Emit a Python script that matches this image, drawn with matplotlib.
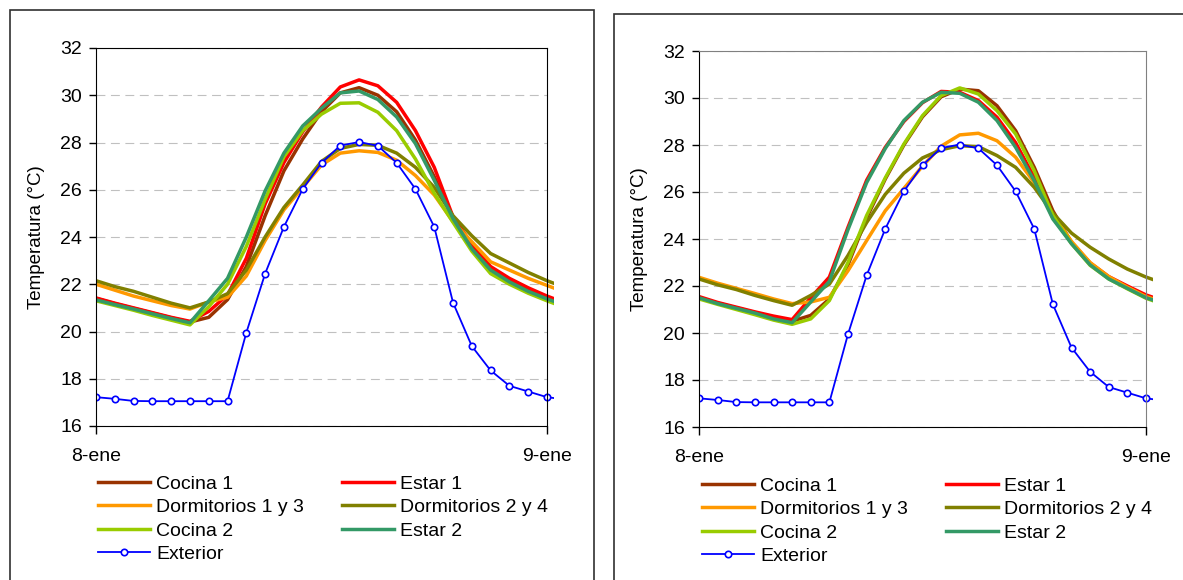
import matplotlib
matplotlib.use("Agg")
import matplotlib.pyplot as plt
from matplotlib.patches import Rectangle
from matplotlib.transforms import Bbox, TransformedBbox

plt.rcParams['font.family'] = ['Liberation Sans', 'DejaVu Sans']

# hourly readings, 8-ene 0:00 -> 9-ene 1:00
hours = list(range(26))
tick_pos = [0, 24]
tick_labels = ['8-ene', '9-ene']
y_ticks = [16, 18, 20, 22, 24, 26, 28, 30, 32]

names = ['Cocina 1', 'Estar 1', 'Dormitorios 1 y 3', 'Dormitorios 2 y 4',
         'Cocina 2', 'Estar 2']
colours = ['#993300', '#FF0000', '#FF9900', '#808000', '#99CC00', '#339966']

exterior = [17.22, 17.15, 17.06, 17.05, 17.05, 17.05, 17.05, 17.05, 19.95, 22.45,
            24.43, 26.03, 27.14, 27.87, 28.02, 27.86, 27.14, 26.03, 24.43, 21.22,
            19.38, 18.35, 17.7, 17.46, 17.22, 17.12]

# left chart
cocina1_a = [21.4, 21.18, 20.98, 20.78, 20.58, 20.4, 20.6, 21.35, 22.75, 24.9,
             26.8, 28.15, 29.3, 30.1, 30.32, 30.0, 29.3, 28.1, 26.55, 24.82,
             23.65, 22.7, 22.2, 21.8, 21.45, 21.15]
estar1_a = [21.42, 21.2, 21.0, 20.8, 20.6, 20.43, 20.85, 21.55, 23.1, 25.4,
            27.15, 28.45, 29.5, 30.35, 30.65, 30.4, 29.7, 28.5, 26.95, 24.85,
            23.7, 22.75, 22.25, 21.85, 21.5, 21.2]
dorm13_a = [22.0, 21.75, 21.5, 21.3, 21.1, 20.95, 21.25, 21.45, 22.35, 23.85,
            25.15, 26.1, 27.05, 27.55, 27.65, 27.58, 27.25, 26.6, 25.78, 24.65,
            23.8, 22.95, 22.6, 22.25, 21.95, 21.65]
dorm24_a = [22.15, 21.9, 21.7, 21.45, 21.2, 21.0, 21.25, 21.6, 22.6, 24.0,
            25.25, 26.2, 27.2, 27.75, 27.92, 27.88, 27.55, 26.95, 26.1, 24.9,
            24.05, 23.3, 22.9, 22.5, 22.15, 21.85]
cocina2_a = [21.3, 21.1, 20.9, 20.68, 20.48, 20.28, 21.05, 22.0, 23.6, 25.6,
             27.4, 28.5, 29.2, 29.66, 29.68, 29.28, 28.5, 27.3, 25.85, 24.62,
             23.4, 22.45, 22.0, 21.62, 21.3, 21.0]
estar2_a = [21.34, 21.14, 20.95, 20.75, 20.55, 20.37, 21.3, 22.25, 24.0, 25.95,
            27.55, 28.7, 29.45, 30.1, 30.18, 29.82, 29.08, 27.95, 26.4, 24.78,
            23.5, 22.6, 22.1, 21.7, 21.38, 21.1]

# right chart
cocina1_b = [21.5, 21.27, 21.07, 20.87, 20.65, 20.5, 20.75, 21.45, 22.9, 24.9,
             26.55, 28.0, 29.2, 30.05, 30.38, 30.31, 29.67, 28.61, 27.05, 25.2,
             23.85, 22.95, 22.35, 21.95, 21.55, 21.3]
estar1_b = [21.55, 21.3, 21.1, 20.9, 20.72, 20.57, 21.5, 22.38, 24.5, 26.5,
            27.9, 29.0, 29.8, 30.28, 30.24, 29.89, 29.18, 28.1, 26.62, 24.9,
            23.85, 22.98, 22.4, 22.0, 21.62, 21.35]
dorm13_b = [22.37, 22.12, 21.9, 21.68, 21.45, 21.25, 21.32, 21.52, 22.65, 23.93,
            25.2, 26.15, 27.1, 27.95, 28.43, 28.5, 28.18, 27.48, 26.4, 25.05,
            23.9, 23.0, 22.4, 21.95, 21.55, 21.3]
dorm24_b = [22.3, 22.05, 21.85, 21.6, 21.38, 21.18, 21.6, 22.08, 23.3, 24.7,
            25.9, 26.8, 27.45, 27.8, 27.97, 27.93, 27.55, 27.05, 26.2, 25.1,
            24.25, 23.65, 23.15, 22.72, 22.38, 22.1]
cocina2_b = [21.45, 21.22, 21.0, 20.78, 20.55, 20.37, 20.6, 21.38, 23.0, 25.0,
             26.6, 28.04, 29.25, 30.1, 30.43, 30.17, 29.46, 28.47, 26.9, 25.0,
             23.8, 22.88, 22.3, 21.88, 21.48, 21.2]
estar2_b = [21.5, 21.25, 21.05, 20.85, 20.6, 20.44, 21.32, 22.2, 24.4, 26.4,
            27.85, 29.04, 29.82, 30.24, 30.2, 29.82, 29.04, 27.9, 26.48, 24.85,
            23.8, 22.9, 22.3, 21.9, 21.5, 21.25]

W, H = 1183, 580
fig = plt.figure(figsize=(W / 100, H / 100), dpi=100)


def px_axes(left, top, right, bottom):
    # pixel box -> figure fraction
    return fig.add_axes([left / W, 1 - bottom / H, (right - left) / W, (bottom - top) / H])


def draw_panel(ax, rooms, frame_col, ylabel_x, legend_xy):
    ax.set_xlim(0, 24)
    ax.set_ylim(16, 32)
    w_px = ax.get_position().width * W
    clip = TransformedBbox(Bbox([[0, 0], [1 + 6.5 / w_px, 1]]), ax.transAxes)

    handles = []
    for vals, name, col in zip(rooms, names, colours):
        ln, = ax.plot(hours, vals, color=col, lw=2.5, label=name, clip_on=True)
        ln.set_clip_box(clip)
        handles.append(ln)
    ext, = ax.plot(hours, exterior, color='#0000FF', lw=1.3, marker='o', ms=4.6,
                   mfc='white', mec='#0000FF', mew=1.2, label='Exterior')
    ext.set_clip_box(clip)

    ax.set_yticks(y_ticks)
    ax.set_xticks(tick_pos)
    ax.set_xticklabels(tick_labels)
    ax.tick_params(axis='y', direction='out', length=5, width=1, labelsize=14, pad=5)
    ax.tick_params(axis='x', direction='out', length=6, width=1, labelsize=14, pad=10)
    ax.yaxis.grid(True, color='#C0C0C0', lw=0.8, linestyle=(0, (8, 5)))
    ax.set_axisbelow(True)
    for side in ['left', 'bottom']:
        ax.spines[side].set_color('black')
    for side in ['top', 'right']:
        ax.spines[side].set_color(frame_col)
    ax.set_ylabel('Temperatura (°C)', fontsize=13.5)
    ax.yaxis.set_label_coords(ylabel_x, 0.5)

    # legend order: rows of two, Exterior last
    order = [handles[0], handles[2], handles[4], ext, handles[1], handles[3], handles[5]]
    fig.legend(handles=order, labels=[h.get_label() for h in order], ncol=2,
               loc='upper left', bbox_to_anchor=(legend_xy[0] / W, 1 - legend_xy[1] / H),
               frameon=False, fontsize=14, handlelength=2.65, handletextpad=0.35,
               columnspacing=1.95, labelspacing=0.3, borderpad=0, borderaxespad=0)


ax_a = px_axes(96, 48, 547, 426)
draw_panel(ax_a, [cocina1_a, estar1_a, dorm13_a, dorm24_a, cocina2_a, estar2_a],
           'black', (45 - 96) / 451, (98, 475))

ax_b = px_axes(699, 51, 1146, 427)
draw_panel(ax_b, [cocina1_b, estar1_b, dorm13_b, dorm24_b, cocina2_b, estar2_b],
           '#808080', (648 - 699) / 447, (702, 477))

# outer chart frames
fig.add_artist(Rectangle((10 / W, -0.05), (594 - 10) / W, 1.05 - 10 / H,
                         transform=fig.transFigure, fill=False, ec='#303030', lw=1.2))
fig.add_artist(Rectangle((614 / W, -0.05), 0.6, 1.05 - 14 / H,
                         transform=fig.transFigure, fill=False, ec='#303030', lw=1.2))

fig.savefig('out.png', dpi=100)
